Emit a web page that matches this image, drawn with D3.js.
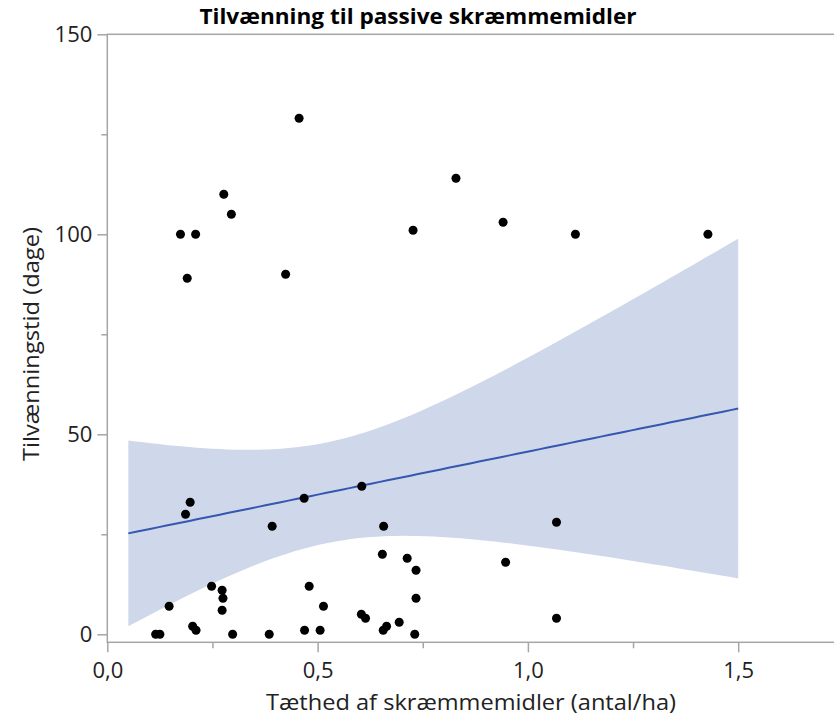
<!DOCTYPE html>
<html>
<head>
<meta charset="utf-8">
<script src="https://cdn.jsdelivr.net/npm/d3@7"></script>
<style>
  html, body { margin: 0; padding: 0; background: #fff; }
  svg { display: block; }
  .tick text { font-family: "Open Sans", "Noto Sans", sans-serif; fill: #222; }
</style>
</head>
<body>
<div id="chart"></div>
<script>
// tæthed (antal/ha) og tilvænningstid (dage)
const density = [
  0.456, 0.829, 0.277, 0.295, 0.941, 0.727, 0.174, 0.210, 1.113, 1.428, 0.190, 0.424,
  0.605, 0.468, 0.197, 0.186, 1.068, 0.392, 0.657,
  0.654, 0.713, 0.947, 0.734, 0.248, 0.480, 0.273, 0.275, 0.734, 0.147, 0.514, 0.273,
  0.604, 0.614, 1.068, 0.694, 0.664, 0.203, 0.211, 0.469, 0.506, 0.656,
  0.115, 0.125, 0.298, 0.385, 0.731
];
const days = [
  129, 114, 110, 105, 103, 101, 100, 100, 100, 100, 89, 90,
  37, 34, 33, 30, 28, 27, 27,
  20, 19, 18, 16, 12, 12, 11, 9, 9, 7, 7, 6,
  5, 4, 4, 3, 2, 2, 1, 1, 1, 1,
  0, 0, 0, 0, 0
];
const fitRange = [0.05, 1.5];
const xMajorTicks = [0, 0.5, 1.0, 1.5];
const xMinorTicks = [0.25, 0.75, 1.25];
const yMajorTicks = [0, 50, 100, 150];
const yMinorTicks = [25, 75, 125];
const tCrit = 2.015; // t(0.975, df = 44)

const width = 834, height = 718;
const plotLeft = 107.3, plotTop = 34.3, plotBottom = 642.3;

const svg = d3.select('#chart').append('svg')
  .attr('width', width)
  .attr('height', height);

const x = d3.scaleLinear().domain([0, 1.75]).range([plotLeft, plotLeft + 1.75 * 420.6]);
const y = d3.scaleLinear().domain([-2, 150]).range([plotBottom, plotTop]);

const da = d3.formatLocale({decimal: ',', thousands: '.', grouping: [3], currency: ['', ' kr']});
const fmt1 = da.format('.1f');

// lineær regression med 95% konfidensbånd
const pts = density.map((d, i) => ({x: d, y: days[i]}));
const n = pts.length;
const mx = d3.mean(pts, d => d.x), my = d3.mean(pts, d => d.y);
const sxx = d3.sum(pts, d => (d.x - mx) ** 2);
const sxy = d3.sum(pts, d => (d.x - mx) * (d.y - my));
const b1 = sxy / sxx, b0 = my - b1 * mx;
const sse = d3.sum(pts, d => (d.y - b0 - b1 * d.x) ** 2);
const s = Math.sqrt(sse / (n - 2));
const band = d3.range(0, 81).map(i => {
  const xv = fitRange[0] + (fitRange[1] - fitRange[0]) * i / 80;
  const yh = b0 + b1 * xv;
  const h = tCrit * s * Math.sqrt(1 / n + (xv - mx) ** 2 / sxx);
  return {x: xv, yh: yh, lo: yh - h, hi: yh + h};
});

svg.append('path')
  .datum(band)
  .attr('fill', '#cfd8ea')
  .attr('d', d3.area().x(d => x(d.x)).y0(d => y(d.lo)).y1(d => y(d.hi)));

svg.append('path')
  .datum(band)
  .attr('fill', 'none')
  .attr('stroke', '#3557b0')
  .attr('stroke-width', 2)
  .attr('d', d3.line().x(d => x(d.x)).y(d => y(d.yh)));

// ramme
svg.append('rect')
  .attr('x', plotLeft).attr('y', plotTop)
  .attr('width', x(1.75) - plotLeft).attr('height', plotBottom - plotTop)
  .attr('fill', 'none').attr('stroke', '#a6a6a6').attr('stroke-width', 1.5);

// akser
svg.append('g')
  .attr('transform', 'translate(0,' + plotBottom + ')')
  .call(d3.axisBottom(x).tickValues(xMajorTicks).tickFormat(fmt1).tickSize(10).tickPadding(10));
svg.append('g')
  .attr('transform', 'translate(0,' + plotBottom + ')')
  .call(d3.axisBottom(x).tickValues(xMinorTicks).tickFormat('').tickSize(6));

svg.append('g')
  .attr('transform', 'translate(' + plotLeft + ',0)')
  .call(d3.axisLeft(y).tickValues(yMajorTicks).tickFormat(d3.format('d')).tickSize(10).tickPadding(5));
svg.append('g')
  .attr('transform', 'translate(' + plotLeft + ',0)')
  .call(d3.axisLeft(y).tickValues(yMinorTicks).tickFormat('').tickSize(6));

svg.selectAll('.domain').remove();
svg.selectAll('.tick line').attr('stroke', '#a6a6a6').attr('stroke-width', 1.5);
svg.selectAll('.tick text').attr('font-size', 22);

// punkter
svg.append('g')
  .selectAll('circle')
  .data(pts)
  .join('circle')
  .attr('cx', d => x(d.x))
  .attr('cy', d => y(d.y))
  .attr('r', 4.5)
  .attr('fill', '#000');

// titler
svg.append('text')
  .attr('x', 418).attr('y', 24)
  .attr('text-anchor', 'middle')
  .attr('font-family', '"Open Sans", "Noto Sans", sans-serif')
  .attr('font-weight', 'bold')
  .attr('font-size', 21)
  .attr('textLength', 437)
  .attr('lengthAdjust', 'spacingAndGlyphs')
  .attr('fill', '#000')
  .text('Tilvænning til passive skræmmemidler');

svg.append('text')
  .attr('x', 471).attr('y', 710)
  .attr('text-anchor', 'middle')
  .attr('font-family', '"Open Sans", "Noto Sans", sans-serif')
  .attr('font-size', 22)
  .attr('textLength', 410)
  .attr('lengthAdjust', 'spacingAndGlyphs')
  .attr('fill', '#222')
  .text('Tæthed af skræmmemidler (antal/ha)');

svg.append('text')
  .attr('transform', 'translate(39,344) rotate(-90)')
  .attr('text-anchor', 'middle')
  .attr('font-family', '"Open Sans", "Noto Sans", sans-serif')
  .attr('font-size', 22)
  .attr('textLength', 234)
  .attr('lengthAdjust', 'spacingAndGlyphs')
  .attr('fill', '#222')
  .text('Tilvænningstid (dage)');
</script>
</body>
</html>
